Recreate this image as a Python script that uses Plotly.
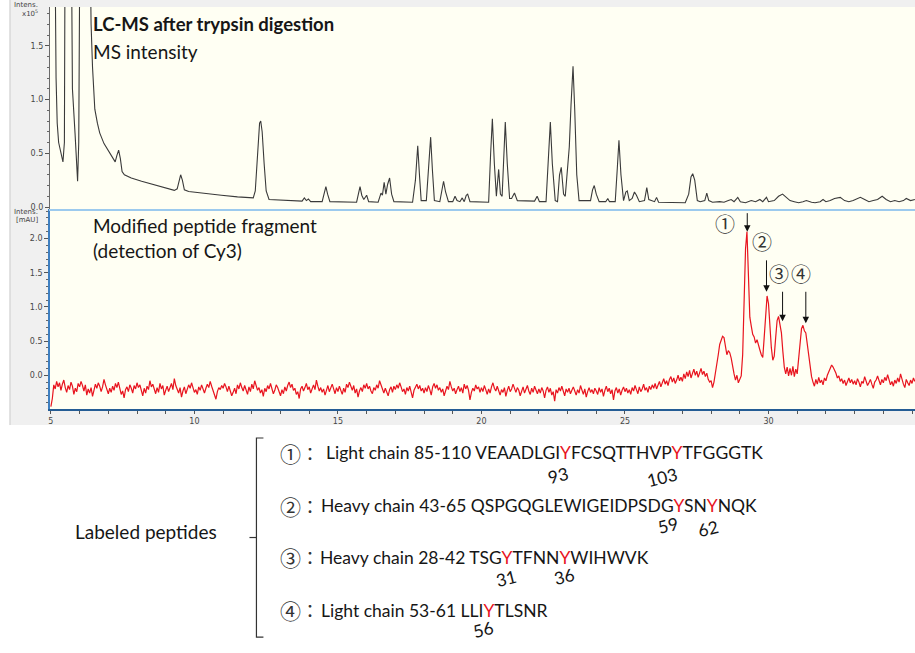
import plotly.graph_objects as go

W, H = 915, 653

# ---- MS intensity trace (retention time in min, intensity in 10^5 counts) ----
ms_rt = [
    5.00, 5.14, 5.18, 5.22, 5.27, 5.35, 5.42, 5.47, 5.50, 5.70, 5.75, 5.84, 5.90, 5.93,
    5.97, 6.02, 6.34, 6.40, 6.45, 6.53, 6.62, 6.70, 6.85, 7.02, 7.15, 7.24, 7.30, 7.36,
    7.42, 7.48, 7.56, 7.80, 8.16, 8.60, 9.00, 9.30, 9.40, 9.46, 9.52, 9.58, 9.65, 9.80,
    10.40, 10.94, 11.50, 12.05, 12.12, 12.20, 12.27, 12.31, 12.36, 12.43, 12.50, 12.60,
    13.20, 13.75, 13.83, 13.90, 13.97, 14.05, 14.45, 14.52, 14.58, 14.64, 14.72, 15.65,
    15.72, 15.77, 15.83, 15.90, 16.00, 16.07, 16.40, 16.50, 16.55, 16.61, 16.67, 16.73,
    16.80, 16.87, 16.95, 17.60, 17.70, 17.78, 17.84, 17.90, 18.08, 18.16, 18.23, 18.29,
    18.36, 18.55, 18.62, 18.68, 18.75, 18.85, 19.00, 19.08, 19.15, 19.25, 19.33, 19.40,
    19.47, 19.52, 19.60, 20.25, 20.32, 20.38, 20.45, 20.52, 20.60, 20.66, 20.72, 20.78,
    20.83, 20.90, 20.98, 21.05, 21.15, 21.25, 21.85, 21.94, 22.02, 22.25, 22.33, 22.40,
    22.47, 22.57, 22.65, 22.72, 22.78, 22.86, 22.92, 23.00, 23.06, 23.12, 23.19, 23.25,
    23.32, 23.40, 23.80, 23.87, 23.93, 24.00, 24.10, 24.33, 24.40, 24.46, 24.66, 24.73,
    24.79, 24.86, 24.95, 25.03, 25.08, 25.15, 25.25, 25.33, 25.40, 25.50, 25.68, 25.76,
    25.83, 26.03, 26.10, 26.17, 26.60, 27.10, 27.22, 27.30, 27.36, 27.43, 27.52, 27.62,
    27.78, 27.85, 27.92, 28.05, 28.30, 28.45, 28.60, 28.70, 28.80, 28.93, 29.02, 29.20,
    29.40, 29.55, 29.70, 29.80, 29.93, 30.00, 30.20, 30.35, 30.49, 30.62, 30.75, 30.90,
    31.05, 31.20, 31.32, 31.50, 31.62, 31.80, 31.90, 32.00, 32.15, 32.30, 32.50, 32.65,
    32.80, 32.95, 33.20, 33.35, 33.50, 33.65, 33.80, 33.96, 34.10, 34.25, 34.40, 34.55,
    34.70, 34.80, 34.95, 35.10,
]
ms_int = [
    3.00, 2.50, 1.20, 0.78, 0.60, 0.50, 0.42, 0.60, 3.00, 3.00, 1.10, 0.69, 0.35, 0.24,
    0.60, 3.00, 3.00, 1.70, 1.30, 0.91, 0.78, 0.69, 0.59, 0.51, 0.45, 0.42, 0.48, 0.53,
    0.45, 0.33, 0.30, 0.27, 0.24, 0.21, 0.18, 0.155, 0.17, 0.25, 0.30, 0.25, 0.16, 0.145,
    0.13, 0.11, 0.095, 0.085, 0.15, 0.50, 0.78, 0.80, 0.70, 0.40, 0.15, 0.07,
    0.06, 0.055, 0.085, 0.06, 0.075, 0.05, 0.05, 0.12, 0.19, 0.12, 0.05, 0.045,
    0.14, 0.19, 0.11, 0.07, 0.11, 0.05, 0.045, 0.13, 0.11, 0.23, 0.12, 0.21,
    0.27, 0.12, 0.05, 0.045, 0.25, 0.57, 0.30, 0.06, 0.06, 0.35, 0.65, 0.35,
    0.06, 0.05, 0.17, 0.24, 0.14, 0.05, 0.05, 0.10, 0.06, 0.05, 0.085, 0.05,
    0.11, 0.12, 0.05, 0.045, 0.50, 0.82, 0.40, 0.10, 0.35, 0.12, 0.10, 0.50,
    0.79, 0.40, 0.08, 0.08, 0.13, 0.06, 0.055, 0.10, 0.05, 0.05, 0.50, 0.79,
    0.40, 0.06, 0.05, 0.30, 0.37, 0.12, 0.10, 0.35, 0.56, 0.95, 1.31, 0.90,
    0.30, 0.06, 0.06, 0.16, 0.20, 0.12, 0.05, 0.05, 0.08, 0.05, 0.05, 0.35,
    0.62, 0.30, 0.06, 0.14, 0.15, 0.06, 0.08, 0.14, 0.11, 0.05, 0.06, 0.18,
    0.07, 0.05, 0.09, 0.045, 0.04, 0.04, 0.12, 0.28, 0.31, 0.25, 0.06, 0.05,
    0.06, 0.13, 0.06, 0.045, 0.05, 0.045, 0.06, 0.07, 0.05, 0.09, 0.05, 0.04,
    0.06, 0.05, 0.07, 0.05, 0.09, 0.05, 0.06, 0.10, 0.12, 0.09, 0.06, 0.05,
    0.04, 0.05, 0.06, 0.045, 0.04, 0.05, 0.07, 0.05, 0.06, 0.08, 0.09, 0.06,
    0.05, 0.06, 0.09, 0.07, 0.05, 0.06, 0.07, 0.10, 0.07, 0.05, 0.06, 0.05,
    0.06, 0.08, 0.06, 0.07,
]

# ---- Cy3 absorbance trace [mAU], one reading every 0.05 min from 5.00 min ----
cy3_start = 5.0
cy3_step = 0.05
cy3_mau = [
    # 5 min
    -0.46, -0.34, -0.14, -0.20, -0.09, -0.17, -0.11, -0.22, -0.13, -0.07, -0.18, -0.25, -0.15, -0.21, -0.10, -0.16, -0.28, -0.19, -0.24, -0.12,
    -0.17, -0.09, -0.15, -0.23, -0.14, -0.29, -0.20, -0.26, -0.18, -0.31, -0.22, -0.13, -0.19, -0.11, -0.16, -0.24, -0.17, -0.06, -0.14, -0.21,
    -0.27, -0.19, -0.25, -0.16, -0.22, -0.12, -0.18, -0.10, -0.20, -0.28, -0.23, -0.33, -0.21, -0.17, -0.24, -0.14, -0.19, -0.26, -0.15, -0.20,
    -0.11, -0.18, -0.14, -0.23, -0.30, -0.19, -0.26, -0.16, -0.21, -0.08, -0.17, -0.13, -0.22, -0.27, -0.18, -0.25, -0.12, -0.20, -0.15, -0.29,
    -0.22, -0.16, -0.24, -0.19, -0.12, -0.21, -0.05, -0.15, -0.20, -0.26, -0.18, -0.32, -0.23, -0.17, -0.27, -0.20, -0.14, -0.19, -0.11, -0.18,
    # 10 min
    -0.25, -0.21, -0.28, -0.17, -0.22, -0.14, -0.20, -0.26, -0.19, -0.13, -0.18, -0.09, -0.16, -0.23, -0.29, -0.35, -0.24, -0.18, -0.21, -0.15,
    -0.19, -0.12, -0.17, -0.24, -0.16, -0.22, -0.30, -0.25, -0.19, -0.27, -0.14, -0.20, -0.11, -0.18, -0.23, -0.15, -0.21, -0.28, -0.17, -0.24,
    -0.13, -0.20, -0.08, -0.16, -0.22, -0.18, -0.26, -0.21, -0.31, -0.19, -0.24, -0.15, -0.20, -0.12, -0.19, -0.27, -0.22, -0.14, -0.18, -0.25,
    -0.30, -0.21, -0.27, -0.17, -0.23, -0.15, -0.10, -0.18, -0.13, -0.22, -0.19, -0.28, -0.24, -0.34, -0.20, -0.16, -0.23, -0.18, -0.12, -0.21,
    -0.17, -0.26, -0.19, -0.14, -0.21, -0.07, -0.16, -0.23, -0.18, -0.25, -0.20, -0.29, -0.22, -0.15, -0.24, -0.19, -0.13, -0.20, -0.27, -0.18,
    # 15 min
    -0.24, -0.16, -0.21, -0.28, -0.19, -0.25, -0.13, -0.18, -0.10, -0.17, -0.22, -0.15, -0.26, -0.20, -0.32, -0.23, -0.18, -0.24, -0.14, -0.19,
    -0.12, -0.20, -0.16, -0.23, -0.27, -0.18, -0.22, -0.14, -0.19, -0.08, -0.15, -0.21, -0.26, -0.19, -0.24, -0.30, -0.21, -0.17, -0.25, -0.16,
    -0.21, -0.14, -0.19, -0.11, -0.17, -0.24, -0.20, -0.28, -0.18, -0.23, -0.16, -0.27, -0.33, -0.22, -0.18, -0.13, -0.20, -0.15, -0.23, -0.19,
    -0.26, -0.18, -0.24, -0.15, -0.21, -0.29, -0.17, -0.12, -0.19, -0.14, -0.22, -0.18, -0.25, -0.20, -0.30, -0.24, -0.16, -0.21, -0.09, -0.17,
    -0.23, -0.19, -0.27, -0.21, -0.16, -0.24, -0.18, -0.26, -0.13, -0.20, -0.15, -0.22, -0.36, -0.25, -0.19, -0.23, -0.14, -0.20, -0.17, -0.25,
    # 20 min
    -0.18, -0.24, -0.15, -0.21, -0.28, -0.20, -0.26, -0.17, -0.11, -0.19, -0.23, -0.16, -0.22, -0.29, -0.21, -0.25, -0.18, -0.31, -0.22, -0.16,
    -0.24, -0.20, -0.13, -0.19, -0.25, -0.18, -0.22, -0.30, -0.24, -0.17, -0.26, -0.21, -0.15, -0.23, -0.28, -0.19, -0.25, -0.16, -0.22, -0.27,
    -0.20, -0.26, -0.18, -0.23, -0.33, -0.22, -0.17, -0.25, -0.19, -0.29, -0.24, -0.38, -0.21, -0.26, -0.18, -0.23, -0.16, -0.24, -0.30, -0.20,
    -0.25, -0.19, -0.27, -0.22, -0.17, -0.23, -0.29, -0.21, -0.26, -0.15, -0.22, -0.28, -0.20, -0.32, -0.24, -0.18, -0.25, -0.21, -0.27, -0.19,
    -0.23, -0.28, -0.18, -0.25, -0.20, -0.31, -0.22, -0.16, -0.24, -0.19, -0.27, -0.21, -0.36, -0.23, -0.18, -0.26, -0.20, -0.29, -0.22, -0.17,
    # 25 min
    -0.24, -0.19, -0.26, -0.21, -0.28, -0.18, -0.23, -0.15, -0.21, -0.27, -0.17, -0.24, -0.20, -0.13, -0.22, -0.18, -0.25, -0.16, -0.21, -0.14,
    -0.19, -0.12, -0.20, -0.15, -0.09, -0.17, -0.11, -0.05, -0.13, -0.08, -0.15, -0.06, -0.02, -0.10, -0.04, -0.12, -0.07, 0.00, -0.08, -0.03,
    -0.09, 0.02, -0.05, 0.05, -0.02, 0.07, -0.04, 0.03, 0.09, 0.00, 0.06, -0.03, 0.04, 0.10, 0.01, 0.06, -0.02, 0.03, -0.06, -0.10,
    -0.08, -0.18, -0.10, 0.02, 0.14, 0.30, 0.45, 0.53, 0.57, 0.55, 0.42, 0.30, 0.36, 0.33, 0.25, 0.12, 0.02, -0.07, 0.00, -0.11,
    -0.06, -0.01, 0.30, 1.10, 1.85, 2.10, 1.40, 0.85, 0.72, 0.60, 0.56, 0.47, 0.52, 0.42, 0.37, 0.30, 0.26, 0.55, 0.95, 1.16,
    # 30 min
    1.05, 0.70, 0.40, 0.22, 0.28, 0.55, 0.80, 0.86, 0.70, 0.62, 0.35, 0.12, 0.02, 0.12, -0.01, 0.10, 0.00, 0.13, -0.02, 0.09,
    0.02, 0.25, 0.55, 0.68, 0.73, 0.65, 0.62, 0.45, 0.30, 0.15, -0.02, -0.10, -0.16, -0.06, -0.13, -0.03, -0.11, -0.07, -0.14, -0.04,
    -0.08, 0.00, 0.06, 0.11, 0.15, 0.12, 0.08, 0.03, -0.04, -0.01, -0.09, -0.05, -0.12, -0.07, -0.15, -0.09, -0.04, -0.11, -0.06, -0.13,
    -0.08, -0.14, -0.05, -0.10, -0.17, -0.09, -0.12, -0.02, -0.08, -0.15, -0.11, -0.06, -0.13, -0.19, -0.10, -0.07, -0.01, -0.09, -0.14, -0.06,
    -0.11, -0.03, -0.08, 0.01, -0.06, -0.14, -0.09, -0.16, -0.07, -0.12, -0.04, -0.10, 0.02, -0.08, -0.13, -0.18, -0.06, -0.11, -0.15, -0.07,
    # 35 min
    -0.12, -0.04, -0.09,
]

# ---- Labelled Cy3 peaks ----
peak_ids = ["①", "②", "③", "④"]
peak_rt = [29.26, 29.93, 30.49, 31.30]
peak_tip = [2.10, 1.22, 0.79, 0.76]

# ---- Peptide table ----
pep_ids = ["①", "②", "③", "④"]
pep_desc = ["Light chain 85-110", "Heavy chain 43-65", "Heavy chain 28-42", "Light chain 53-61"]
pep_seq = ["VEAADLGIYFCSQTTHVPYTFGGGTK", "QSPGQGLEWIGEIDPSDGYSNYNQK",
           "TSGYTFNNYWIHWVK", "LLIYTLSNR"]
pep_sites = [["93", "103"], ["59", "62"], ["31", "36"], ["56"]]

RED = "#e8141e"
INK = "#161616"
TEXT_FONT = "Lato"
CJK_FONT = "Noto Sans CJK JP"


def fx(p):
    return p / W


def fy(p):
    return 1 - p / H


fig = go.Figure()

fig.add_trace(go.Scatter(
    x=ms_rt, y=ms_int, xaxis="x2", yaxis="y2", mode="lines",
    line=dict(color="#3a3a3a", width=1.1), hoverinfo="skip", showlegend=False,
))
fig.add_trace(go.Scatter(
    x0=cy3_start, dx=cy3_step, y=cy3_mau, xaxis="x", yaxis="y", mode="lines",
    line=dict(color=RED, width=1.2), hoverinfo="skip", showlegend=False,
))

tickfont = dict(family="DejaVu Sans", size=8, color="#474747")
x_range = [4.965, 35.104]
x_dom = [48 / W, 1.0]

fig.update_layout(
    width=W, height=H,
    margin=dict(l=0, r=0, t=0, b=0),
    paper_bgcolor="white",
    plot_bgcolor="rgba(0,0,0,0)",
    font=dict(family=TEXT_FONT, color=INK),
    xaxis=dict(
        domain=x_dom, range=x_range, anchor="y",
        showgrid=False, zeroline=False,
        showline=True, linecolor="#245c94", linewidth=2,
        tickmode="linear", tick0=5, dtick=5,
        ticks="outside", ticklen=3, tickwidth=1, tickcolor="#555",
        tickfont=tickfont,
        minor=dict(dtick=1, tick0=5, ticks="outside", ticklen=3, tickcolor="#555", showgrid=False),
    ),
    xaxis2=dict(
        domain=x_dom, range=x_range, anchor="y2", matches="x",
        showgrid=False, zeroline=False, showticklabels=False,
        showline=True, linecolor="#9ccaee", linewidth=2, ticks="",
    ),
    yaxis=dict(
        domain=[fy(411), fy(210)], range=[-0.495, 2.431], anchor="x",
        showgrid=False, zeroline=False,
        showline=True, linecolor="#3f7fc0", linewidth=1.5,
        tickmode="linear", tick0=0, dtick=0.5, tickformat=".1f",
        ticks="outside", ticklen=4, tickcolor="#555", tickfont=tickfont,
        minor=dict(dtick=0.1, tick0=0, ticks="outside", ticklen=2, tickcolor="#666", showgrid=False),
    ),
    yaxis2=dict(
        domain=[fy(209.5), fy(7)], range=[-0.0139, 1.861], anchor="x2",
        showgrid=False, zeroline=False,
        showline=True, linecolor="#6a6a6a", linewidth=1,
        tickmode="linear", tick0=0, dtick=0.5, tickformat=".1f",
        ticks="outside", ticklen=4, tickcolor="#555", tickfont=tickfont,
        minor=dict(dtick=0.1, tick0=0, ticks="outside", ticklen=2, tickcolor="#666", showgrid=False),
    ),
)

# Backgrounds: grey instrument frame, cream plotting field, bracket
shapes = [
    dict(type="rect", xref="paper", yref="paper", x0=fx(8), x1=1, y0=fy(427), y1=1,
         fillcolor="#f0f0f0", line=dict(width=0), layer="below"),
    dict(type="line", xref="paper", yref="paper", x0=fx(8), x1=fx(8), y0=fy(427), y1=1,
         line=dict(color="#c9c9c9", width=1), layer="below"),
    dict(type="rect", xref="paper", yref="paper", x0=fx(48), x1=1, y0=fy(411), y1=fy(7),
         fillcolor="#fffff3", line=dict(width=0), layer="below"),
    # bracket grouping the peptide list
    dict(type="path", xref="paper", yref="paper",
         path=f"M {fx(262)} {fy(440)} L {fx(255)} {fy(440)} L {fx(255)} {fy(640)} L {fx(262)} {fy(640)}",
         line=dict(color="#333", width=1.2)),
    dict(type="line", xref="paper", yref="paper", x0=fx(248), x1=fx(255), y0=fy(540), y1=fy(540),
         line=dict(color="#333", width=1.2)),
]
fig.update_layout(shapes=shapes)

ann = []


def note(text, x, y, size, color=INK, family=TEXT_FONT, xanchor="left", angle=0):
    ann.append(dict(text=text, x=fx(x), y=fy(y), xref="paper", yref="paper",
                    xanchor=xanchor, yanchor="middle", showarrow=False, textangle=angle,
                    font=dict(family=family, size=size, color=color)))


# axis captions
note("Intens.", 38, 5, 7, "#444", "DejaVu Sans", "right")
note("x10<sup>5</sup>", 38, 13, 7, "#444", "DejaVu Sans", "right")
note("Intens.", 38, 213, 7, "#444", "DejaVu Sans", "right")
note("[mAU]", 38, 221, 7, "#444", "DejaVu Sans", "right")

# panel titles
note("<b>LC-MS after trypsin digestion</b>", 89, 24, 18.5)
note("MS intensity", 89, 52, 19)
note("Modified peptide fragment", 89, 227, 19)
note("(detection of Cy3)", 89, 252, 19)

# peak arrows and circled numbers
arrow_len = [20, 33, 31, 33]
for rt, tip, ln in zip(peak_rt, peak_tip, arrow_len):
    ann.append(dict(x=rt, y=tip, xref="x", yref="y", ax=0, ay=-ln, text="",
                    showarrow=True, arrowhead=2, arrowsize=1.3, arrowwidth=1,
                    arrowcolor="#111"))
id_pos = [(725, 225), (762, 243), (779, 275), (801, 275)]
for pid, (x, y) in zip(peak_ids, id_pos):
    note(pid, x, y, 20, "#333", CJK_FONT, "center")

# peptide list
note("Labeled peptides", 71, 534, 19)
row_y = [455, 508, 560, 613]
desc_x = [323, 318, 317, 318]
for pid, desc, seq, y, x in zip(pep_ids, pep_desc, pep_seq, row_y, desc_x):
    note(pid, 289, y, 21, "#333", CJK_FONT, "center")
    note("：", 309, y, 18, "#333", CJK_FONT, "center")
    coloured = seq.replace("Y", f"<span style='color:{RED}'>Y</span>")
    note(f"{desc} {coloured}", x, y, 17.5)

site_pos = [[(557, 478), (661, 480)], [(667, 528), (708, 531)],
            [(505, 581), (563, 579)], [(482, 632)]]
for sites, poss in zip(pep_sites, site_pos):
    for s, (x, y) in zip(sites, poss):
        note(s, x, y, 17.5, INK, TEXT_FONT, "center", -14)

fig.update_layout(annotations=ann)

fig.write_html("out.html")
